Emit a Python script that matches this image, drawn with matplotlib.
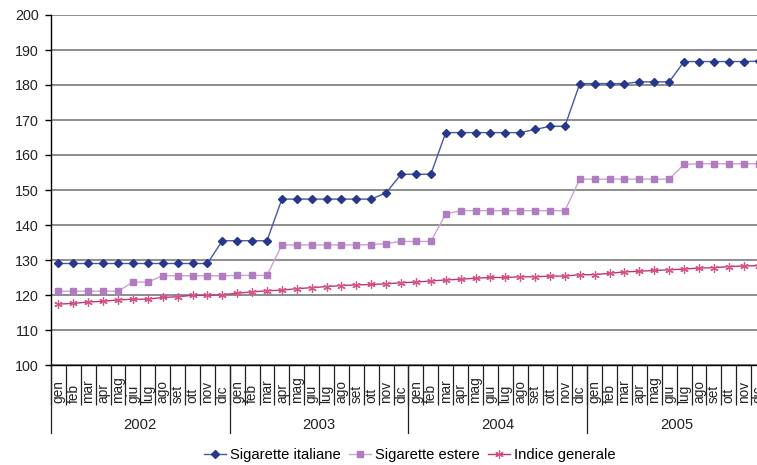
import numpy as np
import matplotlib.pyplot as plt
from matplotlib.transforms import blended_transform_factory

plt.rcParams['font.family'] = ['Liberation Sans', 'DejaVu Sans']

anni = ['2002', '2003', '2004', '2005']
mesi = ['gen', 'feb', 'mar', 'apr', 'mag', 'giu', 'lug', 'ago', 'set', 'ott', 'nov', 'dic']

sig_italiane = [129.0, 129.0, 129.0, 129.0, 129.0, 129.0, 129.0, 129.0, 129.0, 129.0, 129.0, 135.5,
                135.5, 135.5, 135.5, 147.4, 147.4, 147.4, 147.4, 147.4, 147.4, 147.4, 149.2, 154.5,
                154.5, 154.5, 166.4, 166.4, 166.4, 166.4, 166.4, 166.4, 167.3, 168.2, 168.2, 180.4,
                180.4, 180.4, 180.4, 180.9, 180.9, 180.9, 186.7, 186.7, 186.7, 186.7, 186.7, 186.8]
sig_estere = [121.1, 121.1, 121.1, 121.1, 121.1, 123.7, 123.7, 125.5, 125.5, 125.5, 125.5, 125.5,
              125.6, 125.6, 125.6, 134.3, 134.3, 134.3, 134.3, 134.3, 134.3, 134.4, 134.7, 135.3,
              135.3, 135.3, 143.1, 144.1, 144.1, 144.1, 144.1, 144.1, 144.1, 144.1, 144.1, 153.1,
              153.1, 153.1, 153.1, 153.1, 153.1, 153.1, 157.3, 157.5, 157.5, 157.5, 157.5, 157.5]
indice_generale = [117.4, 117.6, 118.0, 118.2, 118.6, 118.8, 118.8, 119.3, 119.5, 119.9, 119.9, 120.1,
                   120.5, 120.9, 121.2, 121.4, 121.8, 122.1, 122.4, 122.7, 122.9, 123.0, 123.2, 123.5,
                   123.7, 124.0, 124.3, 124.5, 124.8, 125.0, 125.0, 125.2, 125.2, 125.4, 125.4, 125.8,
                   125.8, 126.2, 126.6, 126.8, 127.0, 127.2, 127.4, 127.7, 127.8, 128.1, 128.3, 128.4]

n = len(sig_italiane)
x = np.arange(n)

fig = plt.figure(figsize=(7.57, 4.65), dpi=100)
ax = fig.add_axes([51 / 757, 100 / 465, 715 / 757, 350 / 465])

ax.plot(x, sig_italiane, color='#4657A8', lw=1.0, marker='D', ms=3.8,
        mfc='#27388C', mec='#27388C', label='Sigarette italiane', clip_on=False, zorder=4)
ax.plot(x, sig_estere, color='#CBA3D4', lw=1.0, marker='s', ms=5,
        mfc='#B07CBF', mec='#B07CBF', label='Sigarette estere', clip_on=False, zorder=3)
ax.plot(x, indice_generale, color='#C2366E', lw=1.0, marker=(6, 2, 0), ms=6,
        mec='#D2568A', mew=0.9, label='Indice generale', clip_on=False, zorder=3)

ax.set_xlim(-0.5, n - 0.5)
ax.set_ylim(100, 200)
ax.set_yticks(np.arange(100, 201, 10))
ax.yaxis.grid(True, color='#858585', lw=1.3)
ax.set_axisbelow(True)
ax.tick_params(axis='y', length=4, width=1, pad=5, labelsize=10.3, labelcolor='#222222')

for s in ['top', 'right']:
    ax.spines[s].set_visible(False)
ax.spines['left'].set_linewidth(1.0)
ax.spines['bottom'].set_linewidth(1.0)

# month separators as minor ticks, labels drawn by hand
ax.set_xticks([])
ax.set_xticks(np.arange(-0.5, n, 1), minor=True)
ax.tick_params(axis='x', which='minor', length=29, width=0.9, color='#222222')

trans = blended_transform_factory(ax.transData, ax.transAxes)
for i in range(n):
    ax.text(i, -0.109, mesi[i % 12], rotation=90, rotation_mode='anchor',
            ha='left', va='center', fontsize=9.8, color='#222222', transform=trans)

for k, anno in enumerate(anni):
    ax.plot([12 * k - 0.5, 12 * k - 0.5], [0, -0.194], color='#222222', lw=0.9,
            transform=trans, clip_on=False)
    ax.text(12 * k + 5.5, -0.17, anno, ha='center', va='center', fontsize=10.6,
            color='#222222', transform=trans)

fig.legend(loc='center', bbox_to_anchor=(410 / 757, 1 - 455 / 465), ncol=3, frameon=False,
           fontsize=10.6, handlelength=1.5, handletextpad=0.27, columnspacing=0.55)

fig.savefig('out.png', dpi=100)
